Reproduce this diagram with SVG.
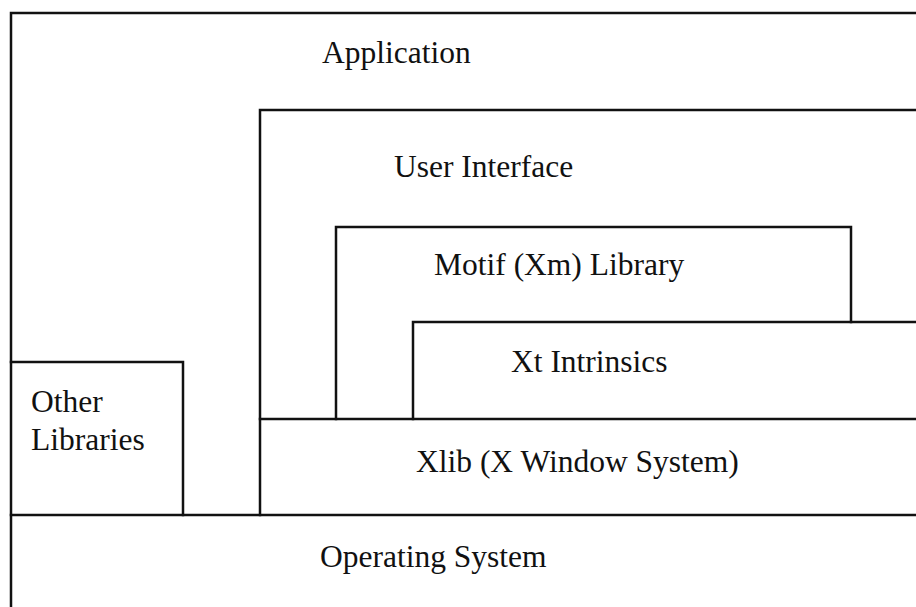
<svg xmlns="http://www.w3.org/2000/svg" width="916" height="607" viewBox="0 0 916 607">
<style>
.ln{fill:none;stroke:#111;stroke-width:2.5;stroke-linecap:square}
.t{font-family:"Liberation Serif","Times New Roman",serif;font-size:31.5px;fill:#111}
</style>
<rect width="916" height="607" fill="#fff"/>
<g id="application">
<path class="ln" d="M11,607 V13 H916"/>
<text class="t" x="322" y="63">Application</text>
</g>
<g id="user-interface">
<path class="ln" d="M260,515 V110 H916"/>
<text class="t" x="394" y="177">User Interface</text>
</g>
<g id="motif">
<path class="ln" d="M336,419 V227 H851 V322"/>
<text class="t" x="434" y="275">Motif (Xm) Library</text>
</g>
<g id="xt">
<path class="ln" d="M413,419 V322 H916"/>
<text class="t" x="511" y="372">Xt Intrinsics</text>
</g>
<g id="xlib">
<path class="ln" d="M260,419 H916"/>
<text class="t" x="416" y="472">Xlib (X Window System)</text>
</g>
<g id="other-libraries">
<path class="ln" d="M11,362 H183 V515"/>
<text class="t" x="31" y="412">Other</text>
<text class="t" x="31" y="450">Libraries</text>
</g>
<g id="operating-system">
<path class="ln" d="M11,515 H916"/>
<text class="t" x="320" y="567">Operating System</text>
</g>
<g id="connectors"></g>
</svg>
